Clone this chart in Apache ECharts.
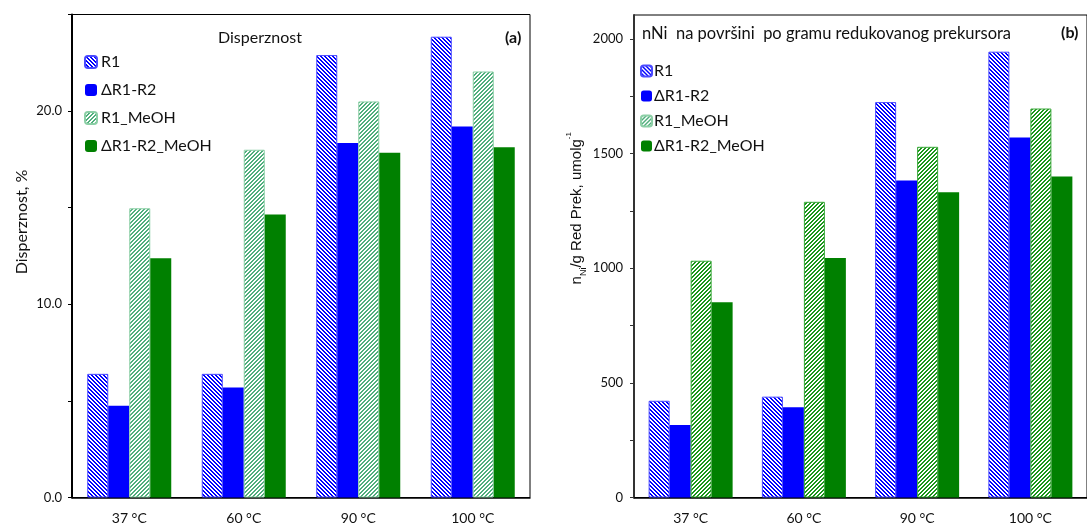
<!DOCTYPE html>
<html>
<head>
<meta charset="utf-8">
<script src="https://cdn.jsdelivr.net/npm/echarts@6/dist/echarts.min.js"></script>
<style>html,body{margin:0;padding:0;background:#fff}#c{width:1087px;height:531px}</style>
</head>
<body>
<div id="c"></div>
<script>
// ---- data ----
const categories = ['37 °C', '60 °C', '90 °C', '100 °C'];
const seriesNames = ['R1', 'ΔR1-R2', 'R1_MeOH', 'ΔR1-R2_MeOH'];
// (a) Disperznost, %
const dispR1 = [6.4, 6.4, 22.9, 23.85];
const dispDR1R2 = [4.75, 5.7, 18.35, 19.2];
const dispR1MeOH = [14.97, 18.0, 20.5, 22.05];
const dispDR1R2MeOH = [12.38, 14.65, 17.85, 18.13];
// (b) nNi per gram of reduced precursor, umol/g
const nniR1 = [422, 440, 1725, 1945];
const nniDR1R2 = [316, 394, 1383, 1571];
const nniR1MeOH = [1033, 1290, 1530, 1697];
const nniDR1R2MeOH = [852, 1045, 1332, 1400];
// tick values
const leftTicks = [0, 5, 10, 15, 20, 25];
const leftLabels = [0, 10, 20];
const rightTicks = [0, 250, 500, 750, 1000, 1250, 1500, 1750, 2000];
const rightLabels = [0, 500, 1000, 1500, 2000];

function hatch(color, dir) {
  const s = 4;
  const c = document.createElement('canvas');
  c.width = s; c.height = s;
  const g = c.getContext('2d');
  g.fillStyle = '#fff';
  g.fillRect(0, 0, s, s);
  g.fillStyle = color;
  for (let y = 0; y < s; y++) {
    for (let x = 0; x < s; x++) {
      const k = dir === 'back' ? ((x - y) % s + s) % s : ((x + y) % s);
      if (k < 2) g.fillRect(x, y, 1, 1);
    }
  }
  return { image: c, repeat: 'repeat' };
}

const FONT = 'Lato';
const blueHatch = hatch('#0000ff', 'back');
const greenHatchA = hatch('#4fae7c', 'fwd');
const greenHatchB = hatch('#1a961a', 'fwd');

function mkSeries(idx, vals, style) {
  return Object.assign({
    type: 'bar', xAxisIndex: idx, yAxisIndex: idx,
    barWidth: 21, barGap: '0%', data: vals
  }, style);
}

const styleR1 = { name: seriesNames[0], itemStyle: { color: blueHatch, borderColor: '#4a4aff', borderWidth: 1 } };
const styleD = { name: seriesNames[1], itemStyle: { color: '#0000ff' } };
const styleMA = { name: seriesNames[2], itemStyle: { color: greenHatchA, borderColor: '#8ccfa6', borderWidth: 1 } };
const styleMB = { name: seriesNames[2], itemStyle: { color: greenHatchB, borderColor: '#3aa83a', borderWidth: 1 } };
const styleDM = { name: seriesNames[3], itemStyle: { color: '#008000' } };

const chart = echarts.init(document.getElementById('c'), null, { renderer: 'canvas' });
chart.setOption({
  animation: false,
  backgroundColor: '#fff',
  textStyle: { fontFamily: FONT },
  title: [
    { text: 'Disperznost', left: 218, top: 30, padding: 0, textStyle: { fontFamily: FONT, fontSize: 16, fontWeight: 'normal', color: '#111' } },
    { text: '(a)', left: 505, top: 30, padding: 0, textStyle: { fontFamily: FONT, fontSize: 16, fontWeight: 'bold', color: '#111' } },
    { text: 'nNi  na površini  po gramu redukovanog prekursora', left: 642, top: 25, padding: 0, textStyle: { fontFamily: FONT, fontSize: 16.5, fontWeight: 'normal', color: '#111' } },
    { text: '(b)', left: 1061, top: 25, padding: 0, textStyle: { fontFamily: FONT, fontSize: 16, fontWeight: 'bold', color: '#111' } }
  ],
  legend: [
    { data: seriesNames, orient: 'vertical', left: 84, top: 54, padding: 0, itemWidth: 12, itemHeight: 12, itemGap: 12,
      textStyle: { fontFamily: FONT, fontSize: 16, color: '#111', padding: [0, 0, 0, -1] }, selectedMode: false },
    { data: seriesNames, orient: 'vertical', left: 640, top: 63, padding: 0, itemWidth: 11, itemHeight: 11, itemGap: 9,
      textStyle: { fontFamily: FONT, fontSize: 16, color: '#111', padding: [0, 0, 0, -3] }, selectedMode: false }
  ],
  grid: [
    { left: 72, right: 557, top: 14.5, bottom: 33.5, show: true, borderColor: '#000', borderWidth: 1 },
    { left: 634, width: 458, top: 15, bottom: 33.5, show: true, borderColor: '#000', borderWidth: 1 }
  ],
  xAxis: [0, 1].map(i => ({
    type: 'category', gridIndex: i, data: categories,
    axisLine: { lineStyle: { color: '#000', width: 1.5 } },
    axisTick: { show: false },
    axisLabel: { fontFamily: FONT, fontSize: 14, color: '#111', margin: 14 }
  })),
  yAxis: [
    { type: 'value', gridIndex: 0, min: 0, max: 25,
      name: 'Disperznost, %', nameLocation: 'middle', nameGap: 42,
      nameTextStyle: { fontFamily: FONT, fontSize: 16, color: '#111', padding: [0, 0, 0, 68] },
      axisLine: { show: true, lineStyle: { color: '#000', width: 2 } },
      axisTick: { show: true, length: 4, customValues: leftTicks, lineStyle: { color: '#000' } },
      axisLabel: { fontFamily: FONT, fontSize: 13, color: '#111', margin: 10, customValues: leftLabels,
        formatter: v => Number(v).toFixed(1) },
      splitLine: { show: false } },
    { type: 'value', gridIndex: 1, min: 0, max: 2105,
      name: '{n|n}{sub|Ni}{n|/g Red Prek, umolg}{sup|-1}', nameLocation: 'middle', nameGap: 46,
      nameTextStyle: { fontFamily: 'Liberation Sans', fontSize: 15, color: '#111', padding: [0, 0, 0, 96],
        rich: {
          n: { fontFamily: 'Liberation Sans', fontSize: 15, color: '#111', lineHeight: 19 },
          sub: { fontFamily: 'Liberation Sans', fontSize: 9, color: '#111', lineHeight: 14, verticalAlign: 'bottom' },
          sup: { fontFamily: 'Liberation Sans', fontSize: 8, color: '#111', lineHeight: 23, verticalAlign: 'top' }
        } },
      axisLine: { show: true, lineStyle: { color: '#333', width: 2 } },
      axisTick: { show: true, length: 4, customValues: rightTicks, lineStyle: { color: '#333' } },
      axisLabel: { fontFamily: FONT, fontSize: 13, color: '#111', margin: 11, customValues: rightLabels,
        formatter: v => String(v) },
      splitLine: { show: false } }
  ],
  series: [
    mkSeries(0, dispR1, styleR1),
    mkSeries(0, dispDR1R2, styleD),
    mkSeries(0, dispR1MeOH, styleMA),
    mkSeries(0, dispDR1R2MeOH, styleDM),
    mkSeries(1, nniR1, styleR1),
    mkSeries(1, nniDR1R2, styleD),
    mkSeries(1, nniR1MeOH, styleMB),
    mkSeries(1, nniDR1R2MeOH, styleDM)
  ]
});
</script>
</body>
</html>
